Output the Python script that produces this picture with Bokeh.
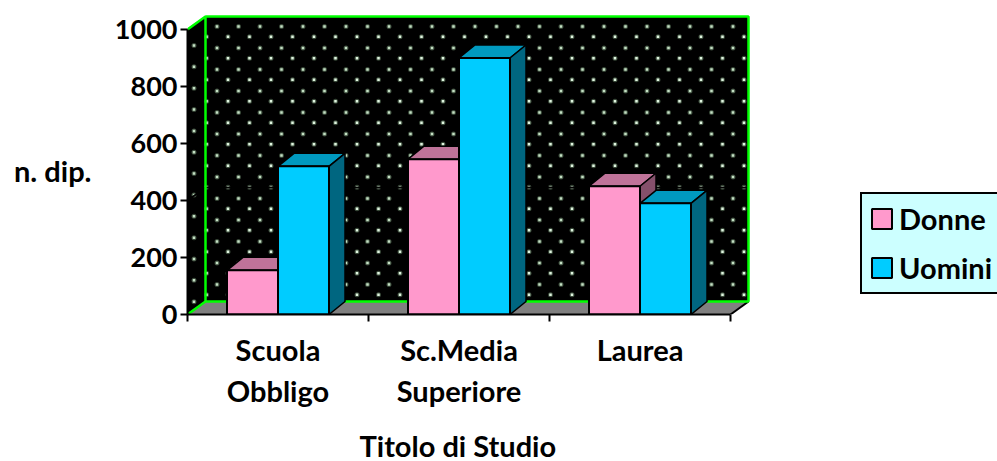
from bokeh.embed import file_html
from bokeh.models import FixedTicker, Legend, LegendItem, LinearAxis, Range1d, Title
from bokeh.plotting import figure
from bokeh.resources import INLINE
import numpy as np

# Chart data
categories_top = ["Scuola", "Sc.Media", "Laurea"]
categories_bottom = ["Obbligo", "Superiore", ""]
donne = [155, 545, 450]
uomini = [520, 900, 390]
y_ticks = [0, 200, 400, 600, 800, 1000]

FONT = "Lato"
FS_NUM = "27px"
FS = "29px"
W, H = 997, 461
LEFT, BASE = 187, 314           # pixel position of the plot origin
PX_CAT = 181.0                  # pixels per category
PX_VAL = 0.285                  # pixels per unit of value
YMAX = 1000
NCAT = len(categories_top)

def ux(px):
    return px / PX_CAT

def uy(px):
    return px / PX_VAL

WALL_DX, WALL_DY = ux(18), uy(13)
BAR_DX, BAR_DY = ux(16), uy(13)
BAR_W = ux(51)

p = figure(width=W, height=H, output_backend="svg", toolbar_location=None,
           x_range=Range1d(0, (W - LEFT) / PX_CAT),
           y_range=Range1d(0, BASE / PX_VAL),
           min_border_left=LEFT, min_border_right=0, min_border_top=0,
           min_border_bottom=H - BASE, outline_line_color=None,
           background_fill_color="white", border_fill_color="white")
p.grid.visible = False

def style_labels(ax, size):
    ax.major_label_text_font = FONT
    ax.major_label_text_font_style = "bold"
    ax.major_label_text_font_size = size
    ax.major_label_text_color = "black"

# Axes with ticks
for ax in (p.xaxis[0], p.yaxis[0]):
    ax.axis_line_color = "black"
    ax.axis_line_width = 2
    ax.major_tick_line_color = "black"
    ax.major_tick_line_width = 2
    ax.major_tick_in = 0
    ax.major_tick_out = 7
    ax.minor_tick_line_color = None
    style_labels(ax, FS_NUM)

p.yaxis[0].ticker = FixedTicker(ticks=y_ticks)
p.yaxis[0].bounds = (0, YMAX)
p.yaxis[0].major_label_standoff = 3

edges = list(range(NCAT + 1))
p.xaxis[0].ticker = FixedTicker(ticks=edges)
p.xaxis[0].bounds = (0, NCAT)
p.xaxis[0].major_label_overrides = {e: "" for e in edges}

# Text-only axes stacked outside the ticked ones
def text_axis(where, positions, labels, standoff, tick_out=0):
    ax = LinearAxis(ticker=FixedTicker(ticks=list(positions)),
                    major_label_overrides=dict(zip(positions, labels)),
                    axis_line_color=None, major_tick_line_color=None,
                    minor_tick_line_color=None, major_tick_in=0,
                    major_tick_out=tick_out, major_label_standoff=standoff)
    style_labels(ax, FS)
    p.add_layout(ax, where)

centres = [i + 0.5 for i in range(NCAT)]
text_axis("below", centres, categories_top, 10)
text_axis("below", centres[:2], categories_bottom[:2], 3)
text_axis("below", [1.5], [""], 0, tick_out=26)
text_axis("left", [505], ["n. dip."], 20)

# Horizontal axis title
p.add_layout(Title(text="Titolo di Studio", align="left", offset=172,
                   vertical_align="top", standoff=-17, text_font=FONT,
                   text_font_style="bold", text_font_size=FS,
                   text_color="black"), "below")

# Side wall, back wall and floor
p.patch([0, WALL_DX, WALL_DX, 0], [0, WALL_DY, YMAX + WALL_DY, YMAX],
        fill_color="black", line_color="#006400", line_width=1)
p.patch([WALL_DX, NCAT + WALL_DX, NCAT + WALL_DX, WALL_DX],
        [WALL_DY, WALL_DY, YMAX + WALL_DY, YMAX + WALL_DY],
        fill_color="black", line_color=None)

# Dotted wall texture: a soft halo under a small bright centre
col_a = LEFT + 29.5 + 21.5 * np.arange(25)
col_b = LEFT + 19 + 21.5 * np.arange(26)
row_a = 26 + 21.5 * np.arange(13)
row_b = 36.3 + 21.5 * np.arange(13)
side_rows = 45 + 21.35 * np.arange(13)

def dots(xpx, ypx, colour):
    xd, yd = ux(xpx - LEFT), uy(BASE - ypx)
    p.scatter(xd, yd, size=5, marker="circle", fill_color="#5f7a5f",
              fill_alpha=0.6, line_color=None)
    p.scatter(xd, yd, size=2.5, marker="square", fill_color=colour, line_color=None)

for cols, rows, colour in ((col_a, row_a, "#c4e0c4"), (col_b, row_b, "#e0f5e0")):
    xs, ys = np.meshgrid(cols, rows)
    dots(xs.ravel(), ys.ravel(), colour)
dots(np.full_like(side_rows, LEFT + 6.5), side_rows, "#c4e0c4")

# Gridline on the walls
p.line([0, WALL_DX, NCAT + WALL_DX], [400, 400 + WALL_DY, 400 + WALL_DY],
       line_color="black", line_width=2)

p.patch([0, WALL_DX, NCAT + WALL_DX, NCAT], [0, WALL_DY, WALL_DY, 0],
        fill_color="#808080", line_color=None)
p.line([NCAT + WALL_DX, NCAT], [WALL_DY, 0], line_color="black", line_width=2)
p.line([0, WALL_DX, WALL_DX, NCAT + WALL_DX, NCAT + WALL_DX, WALL_DX, WALL_DX, 0],
       [YMAX, YMAX + WALL_DY, WALL_DY, WALL_DY, YMAX + WALL_DY, YMAX + WALL_DY,
        WALL_DY, 0],
       line_color="#00ff00", line_width=2.5)

# Clustered 3D bars
def draw_bars(values, offset, front, top, side):
    x0 = [i + 0.5 + offset for i in range(NCAT)]
    x1 = [x + BAR_W for x in x0]
    p.patches([[a, b, b + BAR_DX, a + BAR_DX] for a, b in zip(x0, x1)],
              [[v, v, v + BAR_DY, v + BAR_DY] for v in values],
              fill_color=top, line_color="black", line_width=1.5)
    p.patches([[b, b + BAR_DX, b + BAR_DX, b] for b in x1],
              [[0, BAR_DY, v + BAR_DY, v] for v in values],
              fill_color=side, line_color="black", line_width=1.5)
    return p.vbar(x=[(a + b) / 2 for a, b in zip(x0, x1)], top=values, bottom=0,
                  width=BAR_W, fill_color=front, line_color="black", line_width=2)

r_d = draw_bars(donne, -BAR_W, "#FF99CC", "#BF7399", "#85506B")
r_u = draw_bars(uomini, 0, "#00CCFF", "#0099BF", "#006680")

legend = Legend(items=[LegendItem(label="Donne", renderers=[r_d]),
                       LegendItem(label="Uomini", renderers=[r_u])],
                location=(860 - LEFT, BASE - 293 - 1),
                background_fill_color="#CCFFFF", background_fill_alpha=1,
                border_line_color="black", border_line_width=2,
                border_line_alpha=1,
                glyph_width=25, glyph_height=25, label_standoff=5,
                padding=7, spacing=14, margin=0, label_height=22,
                label_text_font=FONT, label_text_font_style="bold",
                label_text_font_size=FS, label_text_color="black")
p.add_layout(legend)

open("out.html", "w").write(file_html(p, INLINE))
